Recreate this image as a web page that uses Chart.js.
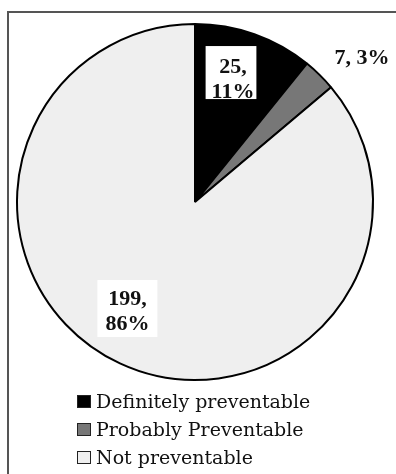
<!DOCTYPE html>
<html>
<head>
<meta charset="utf-8">
<script src="https://cdn.jsdelivr.net/npm/chart.js@4/dist/chart.umd.min.js"></script>
<style>
  html, body { margin: 0; padding: 0; background: #fff; }
  body { width: 396px; height: 474px; position: relative; overflow: hidden; }
  #frame {
    position: absolute; left: 7px; top: 11px; width: 420px; height: 500px;
    border-left: 2px solid #555; border-top: 2px solid #555; box-sizing: border-box;
  }
  #wrap { position: absolute; left: 0; top: 0; width: 396px; height: 474px; }
  #legend {
    position: absolute; left: 77px; top: 387px;
    font-family: "DejaVu Serif", serif; font-size: 19px; color: #111;
  }
  .item { display: flex; align-items: center; height: 28px; }
  .box { width: 12px; height: 11px; border: 1.5px solid #222; margin-right: 5px; }
</style>
</head>
<body>
<div id="frame"></div>
<div id="wrap"><canvas id="c"></canvas></div>
<div id="legend"></div>
<script>
// Preventability of the cases
const categories = ["Definitely preventable", "Probably Preventable", "Not preventable"];
const counts = [25, 7, 199];
const sliceColors = ["#000000", "#777777", "#efefef"];

const total = counts.reduce((a, b) => a + b, 0);

// Value labels: "count, percent" placed relative to each slice
const valueLabels = {
  id: "valueLabels",
  afterDatasetsDraw(chart, args, opts) {
    const ctx = chart.ctx;
    const meta = chart.getDatasetMeta(0);
    const lh = 25;      // line spacing
    const half = 7.5;   // half the digit height
    ctx.save();
    ctx.font = "bold 22px 'Liberation Serif', serif";
    ctx.textAlign = "center";
    ctx.textBaseline = "alphabetic";
    meta.data.forEach((arc, i) => {
      const p = arc.getProps(["x", "y", "startAngle", "endAngle", "outerRadius"], true);
      const place = opts.placement[i];
      const mid = (p.startAngle + p.endAngle) / 2 + place.shift * Math.PI / 180;
      const r = p.outerRadius * place.radius;
      const x = p.x + Math.cos(mid) * r;
      const y = p.y + Math.sin(mid) * r;
      const v = counts[i];
      const pct = Math.round(v / total * 100);
      const lines = place.split ? [v + ",", pct + "%"] : [v + ", " + pct + "%"];
      if (place.box) {
        const b = place.box;
        const w = Math.max(...lines.map(s => ctx.measureText(s).width)) + b.padX * 2;
        const h = lines.length * lh + b.padY * 2;
        ctx.fillStyle = "#ffffff";
        ctx.fillRect(x + b.dx - w / 2, y + b.dy - h / 2, w, h);
      }
      ctx.fillStyle = "#111";
      lines.forEach((s, k) => {
        ctx.fillText(s, x, y + (k - (lines.length - 1) / 2) * lh + half);
      });
    });
    ctx.restore();
  }
};

const chart = new Chart(document.getElementById("c"), {
  type: "pie",
  data: {
    labels: categories,
    datasets: [{
      data: counts,
      backgroundColor: sliceColors,
      borderColor: "#000",
      borderWidth: 2
    }]
  },
  options: {
    responsive: true,
    maintainAspectRatio: false,
    animation: false,
    layout: { padding: { left: 16, top: 23, right: 22, bottom: 93 } },
    plugins: {
      legend: { display: false },
      tooltip: { enabled: false },
      valueLabels: {
        placement: [
          { radius: 0.731, shift: -2.5, split: true, box: { padX: 4, padY: 1.5, dx: -2, dy: -5 } },
          { radius: 1.244, shift: 4.5, split: false, box: null },
          { radius: 0.716, shift: 7.1, split: true, box: { padX: 8, padY: 3.5, dx: 0, dy: -1.5 } }
        ]
      }
    }
  },
  plugins: [valueLabels]
});

// Legend built from the chart's own labels and colours
const legend = document.getElementById("legend");
chart.data.labels.forEach((lab, i) => {
  const row = document.createElement("div");
  row.className = "item";
  const box = document.createElement("span");
  box.className = "box";
  box.style.background = chart.data.datasets[0].backgroundColor[i];
  const txt = document.createElement("span");
  txt.textContent = lab;
  row.appendChild(box);
  row.appendChild(txt);
  legend.appendChild(row);
});
</script>
</body>
</html>
